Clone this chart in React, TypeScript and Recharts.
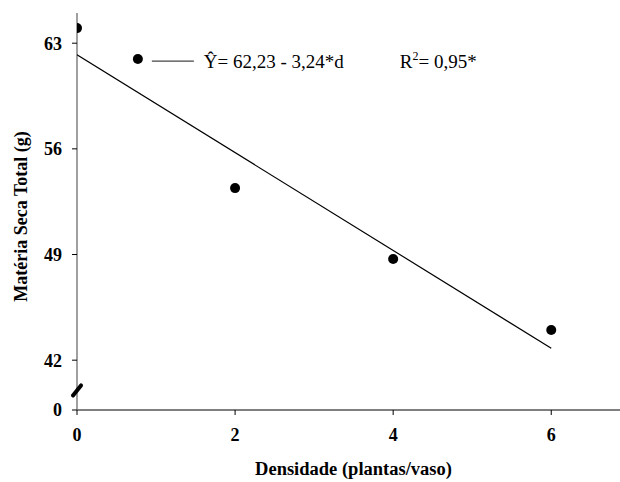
import { ScatterChart, Scatter, XAxis, YAxis, ReferenceDot, Label } from "recharts";

const densidade = [0, 2, 4, 6];
const materiaSeca = [64.0, 53.4, 48.7, 44.0];

// fitted line end points (Y = 62,23 - 3,24*d)
const ajusteX = [0, 6];
const ajusteY = [62.23, 42.79];

const xTicks = [0, 2, 4, 6];
const yTicks = [42, 49, 56, 63];
const yAxisZero = 38.7; // where the broken axis prints "0"
const yBreakAt = 40;

const legendAt = { x: 0.77, y: 61.95 };

const pontos = densidade.map((d, i) => ({ x: d, y: materiaSeca[i] }));
const ajuste = ajusteX.map((d, i) => ({ x: d, y: ajusteY[i] }));

const FONT = '"Liberation Serif", "Times New Roman", serif';
const tickStyle = { fill: "#000", fontSize: 18, fontWeight: "bold", fontFamily: FONT };

const BreakMark = (props: any) => {
    const { cx, cy } = props;
    return (
        <line x1={cx - 4} y1={cy + 5} x2={cx + 4} y2={cy - 5} stroke="#000" strokeWidth={4} strokeLinecap="round" />
    );
};

const LegendShape = (props: any) => {
    const { cx, cy } = props;
    return (
        <g fontFamily={FONT} fontSize={19} fill="#000">
            <circle cx={cx} cy={cy} r={5} fill="#000" />
            <line x1={cx + 14} y1={cy + 2} x2={cx + 56} y2={cy + 2} stroke="#444" strokeWidth={1.3} />
            <text x={cx + 66} y={cy + 9}>Ŷ= 62,23 - 3,24*d</text>
            <text x={cx + 262} y={cy + 9}>
                R<tspan fontSize={12} dy={-8}>2</tspan><tspan dy={8}>= 0,95*</tspan>
            </text>
        </g>
    );
};

export default function App() {
    return (
        <div style={{ position: "absolute", left: 0, top: 0, width: 620, height: 482, background: "#fff", fontFamily: FONT }}>
            <ScatterChart width={620} height={482} margin={{ top: 13, right: 0, bottom: 0, left: 0 }}>
                <XAxis
                    type="number"
                    dataKey="x"
                    domain={[0, 6.87]}
                    ticks={xTicks}
                    interval={0}
                    allowDataOverflow
                    height={72}
                    tickSize={5}
                    tickMargin={13}
                    tick={tickStyle}
                    axisLine={{ stroke: "#000", strokeWidth: 1.2 }}
                    tickLine={{ stroke: "#000" }}
                >
                    <Label
                        content={(p: any) => {
                            const vb = p.viewBox;
                            return (
                                <text x={vb.x + vb.width / 2 + 5} y={vb.y + 65} textAnchor="middle" fontFamily={FONT} fontSize={18.5} fontWeight="bold" fill="#000">
                                    Densidade (plantas/vaso)
                                </text>
                            );
                        }}
                    />
                </XAxis>
                <YAxis
                    type="number"
                    dataKey="y"
                    domain={[yAxisZero, 65]}
                    ticks={[yAxisZero, ...yTicks]}
                    interval={0}
                    allowDataOverflow
                    width={77}
                    tickSize={5}
                    tickMargin={10}
                    tick={tickStyle}
                    tickFormatter={(v: number) => (v === yAxisZero ? "0" : String(v))}
                    axisLine={{ stroke: "#808080", strokeWidth: 1.5 }}
                    tickLine={{ stroke: "#000" }}
                >
                    <Label
                        content={(p: any) => {
                            const vb = p.viewBox;
                            const cx = vb.x + 27;
                            const cy = vb.y + vb.height / 2 + 5;
                            return (
                                <text x={cx} y={cy} transform={`rotate(-90, ${cx}, ${cy})`} textAnchor="middle" fontFamily={FONT} fontSize={18} fontWeight="bold" fill="#000">
                                    Matéria Seca Total (g)
                                </text>
                            );
                        }}
                    />
                </YAxis>
                <Scatter
                    data={ajuste}
                    line={{ stroke: "#000", strokeWidth: 1.2 }}
                    shape={() => <g />}
                    isAnimationActive={false}
                />
                <Scatter data={pontos} fill="#000" shape={(p: any) => <circle cx={p.cx} cy={p.cy} r={5} fill="#000" />} isAnimationActive={false} />
                <ReferenceDot x={0} y={yBreakAt} shape={BreakMark} ifOverflow="visible" />
                <ReferenceDot x={legendAt.x} y={legendAt.y} shape={LegendShape} ifOverflow="visible" />
            </ScatterChart>
        </div>
    );
}
